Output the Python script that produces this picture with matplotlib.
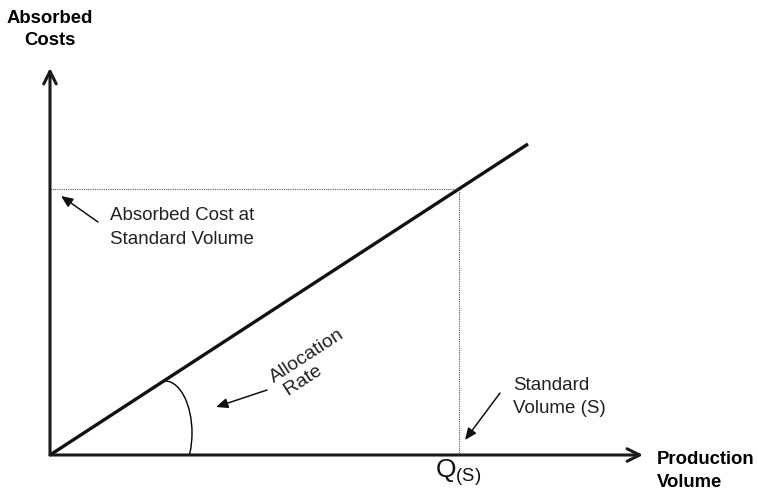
import numpy as np
import matplotlib
matplotlib.use("Agg")
import matplotlib.pyplot as plt
from matplotlib.patches import Arc, Rectangle

plt.rcParams['font.family'] = ['Liberation Sans', 'DejaVu Sans']

# Data (units: abstract volume / cost)
volume = [0, 478]
cost = [0, 311]
q_standard = 409
cost_standard = float(np.interp(q_standard, volume, cost))
x_axis_end = 593
y_axis_end = 387
line_angle = float(np.degrees(np.arctan2(cost[1], volume[1])))

fig = plt.figure(figsize=(7.58, 4.96), dpi=100)
ax = fig.add_axes([0, 0, 1, 1])
ax.set_xlim(-50, 708)
ax.set_ylim(-41, 455)
ax.axis('off')

# axes with open arrowheads
axis_arrow = dict(arrowstyle='->,head_length=0.9,head_width=0.45', lw=2.2, color='#1a1a1a',
                  shrinkA=0, shrinkB=0)
ax.annotate('', xy=(x_axis_end, 0), xytext=(0, 0), arrowprops=axis_arrow)
ax.annotate('', xy=(0, y_axis_end), xytext=(0, 0), arrowprops=axis_arrow)

# absorbed cost line
ax.plot(volume, cost, color='#111111', lw=2.4, solid_capstyle='butt')

# dotted guides
ax.plot([0, q_standard], [cost_standard, cost_standard], color='#555555', lw=0.8, ls=(0, (1, 1)))
ax.plot([q_standard, q_standard], [0, cost_standard], color='#555555', lw=0.8, ls=(0, (1, 1)))

# angle arc (elliptical bracket between line and x-axis)
arc = Arc((115, 22), 54, 104, theta1=-90, theta2=90, color='black', lw=1)
ax.add_patch(arc)
clip = Rectangle((0, 0.5), 300, 200, transform=ax.transData, visible=False)
ax.add_patch(clip)
arc.set_clip_path(clip)

# labels
ax.text(0, 445, 'Absorbed\nCosts', ha='center', va='top', fontsize=13.3, fontweight='bold',
        linespacing=1.38)
ax.text(607, 4, 'Production\nVolume', ha='left', va='top', fontsize=13.3, fontweight='bold',
        linespacing=1.44)
ax.text(60, 248, 'Absorbed Cost at\nStandard Volume', ha='left', va='top', fontsize=13.5,
        linespacing=1.5, color='#222222')
ax.text(262, 91, 'Allocation\n Rate', ha='center', va='center', fontsize=14, rotation=line_angle,
        multialignment='left', linespacing=1.2, color='#222222', rotation_mode='anchor')
ax.text(463, 78, 'Standard\nVolume (S)', ha='left', va='top', fontsize=13.5, linespacing=1.49,
        color='#222222')
ax.text(q_standard - 1, -2, r'Q$_{\mathregular{(S)}}$', ha='center', va='top', fontsize=19,
        color='#111111')

# pointer arrows
ptr = dict(arrowstyle='-|>,head_length=0.7,head_width=0.3', lw=1.1, color='#111111',
           shrinkA=0, shrinkB=0)
ax.annotate('', xy=(11, 259), xytext=(48, 233), arrowprops=ptr)
ax.annotate('', xy=(166, 48), xytext=(217, 65), arrowprops=ptr)
ax.annotate('', xy=(415, 15), xytext=(450, 62), arrowprops=ptr)

fig.savefig('out.png', dpi=100)
